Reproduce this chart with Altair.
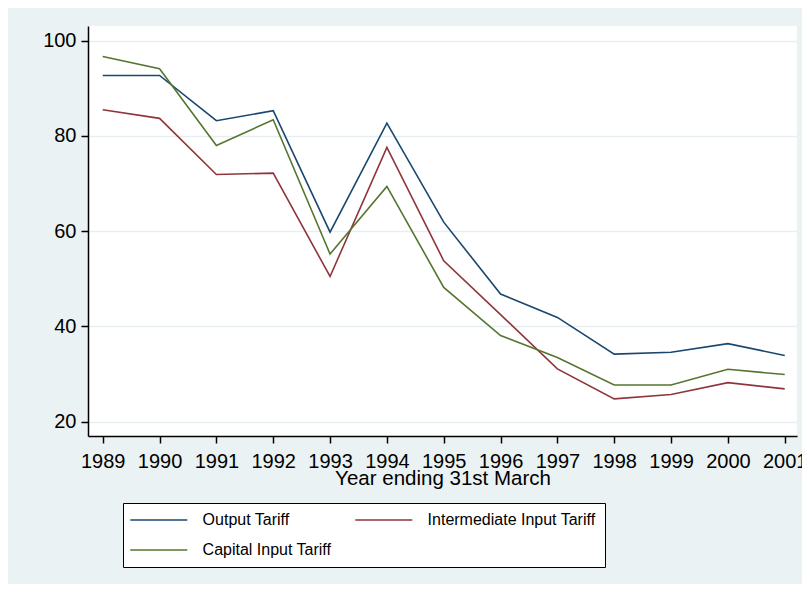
import altair as alt
import pandas as pd

years = list(range(1989, 2002))
output_tariff = [92.7, 92.7, 83.2, 85.3, 59.8, 82.7, 61.9, 46.8, 41.9, 34.2, 34.6, 36.4, 33.9]
intermediate_tariff = [85.5, 83.7, 71.9, 72.2, 50.5, 77.6, 53.8, 42.5, 31.1, 24.8, 25.7, 28.2, 26.9]
capital_tariff = [96.7, 94.1, 78.0, 83.4, 55.2, 69.4, 48.2, 38.1, 33.5, 27.7, 27.7, 31.0, 29.9]
series_names = ["Output Tariff", "Intermediate Input Tariff", "Capital Input Tariff"]
series_colors = ["#1a476f", "#90353b", "#55752f"]
y_ticks = [20, 40, 60, 80, 100]

df = pd.DataFrame({
    "year": years * 3,
    "value": output_tariff + intermediate_tariff + capital_tariff,
    "series": [series_names[0]] * len(years)
    + [series_names[1]] * len(years)
    + [series_names[2]] * len(years),
})

FONT = "Liberation Sans"

chart = (
    alt.Chart(df)
    .mark_line(strokeWidth=1.6)
    .encode(
        x=alt.X(
            "year:Q",
            scale=alt.Scale(domain=[1988.741, 2001.216], nice=False, zero=False),
            axis=alt.Axis(
                values=years,
                format="d",
                title="Year ending 31st March",
                grid=False,
                labelFlush=False,
                labelFontSize=20,
                labelBaseline="alphabetic",
                labelPadding=24,
                labelColor="black",
                tickSize=7,
                tickColor="black",
                tickWidth=1.5,
                domainColor="black",
                domainWidth=1.5,
                titleFontSize=20.5,
                titleFontWeight="normal",
                titleColor="black",
                titleBaseline="alphabetic",
                titleY=48,
            ),
        ),
        y=alt.Y(
            "value:Q",
            scale=alt.Scale(domain=[17.0, 103.09], nice=False, zero=False),
            axis=alt.Axis(
                values=y_ticks,
                title=None,
                grid=True,
                gridColor="#e6eef2",
                gridWidth=1.5,
                labelFontSize=20,
                labelPadding=5,
                labelColor="black",
                tickSize=7,
                tickColor="black",
                tickWidth=1.5,
                domainColor="black",
                domainWidth=1.5,
            ),
        ),
        color=alt.Color(
            "series:N",
            sort=series_names,
            scale=alt.Scale(domain=series_names, range=series_colors),
            legend=alt.Legend(
                title=None,
                orient="none",
                direction="horizontal",
                legendX=35,
                legendY=477,
                columns=2,
                symbolType="M-1.7,0H8.3",
                symbolSize=130,
                symbolStrokeWidth=1.5,
                labelFontSize=16,
                labelColor="black",
                labelLimit=300,
                labelOffset=54.6,
                columnPadding=20,
                rowPadding=14,
                padding=9,
                strokeColor="black",
                fillColor="white",
            ),
        ),
    )
    .properties(
        width=709,
        height=410,
        autosize=alt.AutoSizeParams(type="none"),
        padding={"left": 80, "top": 18, "right": 5, "bottom": 148},
        background="#eaf2f3",
    )
    .configure(font=FONT)
    .configure_view(fill="white", strokeWidth=0)
)

chart.save("out.html", embed_options={"renderer": "svg", "actions": False})
